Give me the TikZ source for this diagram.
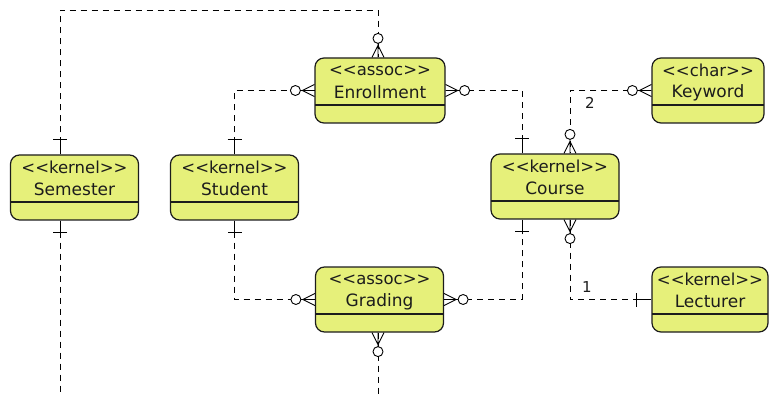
\documentclass[tikz,border=0pt]{standalone}
\usepackage{fontspec}
\setmainfont{DejaVu Sans}
\usetikzlibrary{calc}
\definecolor{entfill}{RGB}{230,240,122}
\definecolor{ink}{RGB}{28,28,28}
% stereotype text; the kerns keep << and >> from turning into guillemets
\newcommand\stereo[1]{<\kern0pt<#1>\kern0pt>}
\newcommand\entity[6]{% name, x, y, width, stereotype, title
  \node[ent, minimum width=#4pt] (#1) at (#2,#3) {};
  \node[sttext] (#1-st) at ($(#1.north)+(0,13)$) {\stereo{#5}};
  \node[titletext] (#1-ti) at ($(#1.north)+(0,35)$) {#6};
}
\tikzset{
  ent/.style={draw=ink, line width=1.2pt, fill=entfill, rounded corners=9pt,
    minimum height=65pt, inner sep=0pt,
    path picture={\draw[ink, line width=1.2pt]
      ([yshift=18pt]path picture bounding box.south west) --
      ([yshift=18pt]path picture bounding box.south east);}},
  sttext/.style={inner sep=0pt, text=ink, font=\fontsize{16.5}{18}\selectfont},
  titletext/.style={inner sep=0pt, text=ink, font=\fontsize{17}{19}\selectfont},
  card/.style={inner sep=0pt, text=ink, font=\fontsize{15}{17}\selectfont},
  rel/.style={draw=black, line width=0.9pt, dash pattern=on 6pt off 5pt},
  manyO/.pic={
    \draw[black, line width=0.9pt] (0,-6) -- (12,0) -- (0,6) (0,0) -- (14,0);
    \draw[black, line width=0.9pt, fill=white] (19,0) circle (5pt);},
  oneBar/.pic={\draw[black, line width=0.9pt] (0,0) -- (15,0) (15,-7) -- (15,7);},
  oneBarS/.pic={\draw[black, line width=0.9pt] (0,0) -- (12,0) (12,-7) -- (12,7);},
}
\begin{document}
\begin{tikzpicture}[x=1pt, y=-1pt]
\useasboundingbox (0,0) rectangle (770,395);

% entities
\entity{enr}{380}{90.5}{130}{assoc}{Enrollment}
\entity{sem}{74.5}{187.5}{128}{kernel}{Semester}
\entity{stu}{234.5}{187.5}{128}{kernel}{Student}
\entity{crs}{555}{186.5}{128}{kernel}{Course}
\entity{key}{708}{90.5}{112}{char}{Keyword}
\entity{lec}{710}{299.5}{116}{kernel}{Lecturer}
\entity{grd}{379.5}{299.5}{128}{assoc}{Grading}

% routing columns and free ends
\coordinate (colA) at (60,10);
\coordinate (colE) at (378,10);
\coordinate (colL) at (522,0);
\coordinate (colR) at (570,0);
\coordinate (semEnd) at (60,395);
\coordinate (grdEnd) at (378,395);

% connectors
\draw[rel] (sem.north -| colA) -- (colA) -- (colE) -- (enr.north -| colE);
\draw[rel] (stu.north) |- (enr.west);
\draw[rel] (enr.east) -| (crs.north -| colL);
\draw[rel] (key.west) -| (crs.north -| colR);
\draw[rel] (stu.south) |- (grd.west);
\draw[rel] (grd.east) -| (crs.south -| colL);
\draw[rel] (crs.south -| colR) |- (lec.west);
\draw[rel] (sem.south -| colA) -- (semEnd);
\draw[rel] (grd.south -| colE) -- (grdEnd);

% end markers
\pic[rotate=90]  at (sem.north -| colA) {oneBar};
\pic[rotate=-90] at (sem.south -| colA) {oneBarS};
\pic[rotate=90]  at (enr.north -| colE) {manyO};
\pic[rotate=180] at (enr.west) {manyO};
\pic[rotate=0]   at (enr.east) {manyO};
\pic[rotate=90]  at (stu.north) {oneBar};
\pic[rotate=-90] at (stu.south) {oneBarS};
\pic[rotate=90]  at (crs.north -| colL) {oneBar};
\pic[rotate=90]  at (crs.north -| colR) {manyO};
\pic[rotate=-90] at (crs.south -| colL) {oneBarS};
\pic[rotate=-90] at (crs.south -| colR) {manyO};
\pic[rotate=180] at (key.west) {manyO};
\pic[rotate=180] at (lec.west) {oneBar};
\pic[rotate=180] at (grd.west) {manyO};
\pic[rotate=0]   at (grd.east) {manyO};
\pic[rotate=-90] at (grd.south -| colE) {manyO};

% multiplicities
\node[card] (m2) at (590,103) {2};
\node[card] (m1) at (587,287) {1};
\end{tikzpicture}
\end{document}
